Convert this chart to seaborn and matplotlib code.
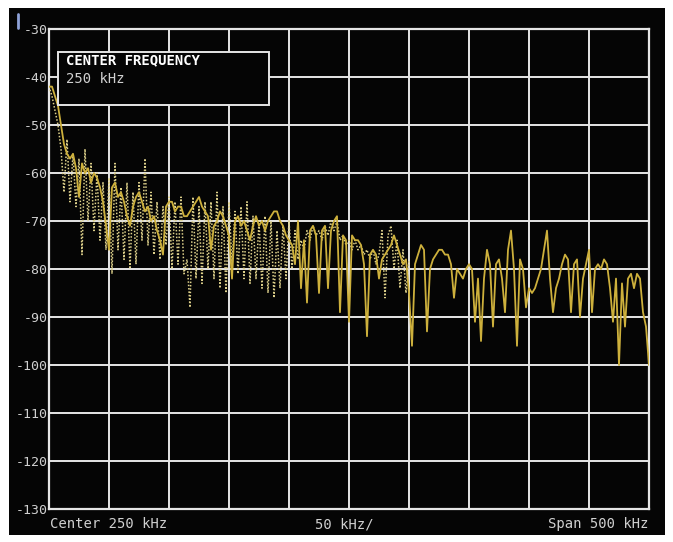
"""
Spectrum analyser screen: 250 kHz centre, 500 kHz span, -30 .. -130 dBm.
Two overlaid traces (solid + dotted) read off the reference screenshot.
"""

import numpy as np
import pandas as pd
import matplotlib
matplotlib.use("Agg")
import matplotlib.pyplot as plt
from matplotlib.patches import Rectangle
from matplotlib.lines import Line2D
import seaborn as sns

# ── data ───────────────────────────────────────────────────────────────────────
SPAN_KHZ = 500
BIN_KHZ = 2.5          # one trace bin = 2.5 kHz (approx. 3 px on screen)

# solid trace, 0 .. 500 kHz
solid_dbm = [
    -42, -42, -44, -46, -50, -54, -56, -57, -56, -59,
    -65, -58, -60, -59, -62, -60, -61, -63, -66, -71,
    -76, -63, -62, -65, -64, -66, -69, -71, -67, -65,
    -64, -66, -68, -67, -70, -69, -72, -74, -77, -67,
    -66, -66, -68, -67, -67, -69, -69, -68, -67, -66,
    -65, -67, -68, -69, -76, -71, -70, -68, -69, -71,
    -73, -82, -70, -69, -71, -70, -72, -74, -71, -69,
    -71, -70, -72, -70, -69, -68, -68, -70, -71, -73,
    -74, -75, -79, -70, -84, -74, -87, -72, -71, -73,
    -85, -72, -71, -84, -72, -70, -69, -89, -73, -74,
    -91, -73, -74, -74, -75, -79, -94, -77, -76, -77,
    -82, -78, -77, -76, -75, -73, -75, -77, -79, -78,
    -85, -96, -79, -77, -75, -76, -93, -80, -78, -77,
    -76, -76, -77, -77, -79, -86, -80, -81, -82, -80,
    -79, -80, -91, -82, -95, -82, -76, -79, -92, -79,
    -78, -82, -89, -76, -72, -80, -96, -78, -80, -88,
    -84, -85, -84, -82, -80, -76, -72, -82, -89, -84,
    -82, -79, -77, -78, -89, -79, -78, -90, -82, -79,
    -76, -89, -80, -79, -80, -78, -79, -84, -91, -82,
    -100, -83, -92, -82, -81, -84, -81, -82, -89, -92,
    -100,
]

# dotted trace, 0 .. ~300 kHz
dotted_dbm = [
    -42, -44, -47, -50, -55, -64, -53, -66, -56, -67,
    -57, -77, -55, -70, -58, -72, -60, -74, -62, -76,
    -61, -81, -58, -76, -63, -78, -62, -80, -64, -79,
    -62, -74, -57, -75, -64, -77, -66, -78, -67, -75,
    -65, -80, -66, -79, -65, -81, -78, -88, -65, -82,
    -67, -83, -66, -80, -66, -82, -64, -84, -67, -85,
    -66, -79, -68, -81, -67, -82, -66, -83, -69, -82,
    -70, -84, -69, -85, -70, -86, -72, -84, -71, -82,
    -70, -80, -72, -78, -74, -76, -72, -74, -71, -73,
    -72, -74, -71, -73, -70, -72, -70, -74, -73, -75,
    -74, -76, -74, -76, -75, -77, -76, -78, -76, -79,
    -77, -72, -86, -73, -71, -80, -74, -84, -76, -85,
    -78,
]

y_ticks = list(range(-30, -131, -10))
x_ticks = list(range(0, SPAN_KHZ + 1, 50))
box_title = "CENTER FREQUENCY"
box_value = "250 kHz"
foot_left, foot_mid, foot_right = "Center 250 kHz", "50 kHz/", "Span 500 kHz"

solid = pd.DataFrame({"freq": np.arange(len(solid_dbm)) * BIN_KHZ, "level": solid_dbm})
dotted = pd.DataFrame({"freq": np.arange(len(dotted_dbm)) * BIN_KHZ, "level": dotted_dbm})

# ── style ──────────────────────────────────────────────────────────────────────
sns.set_theme(style="dark")
plt.rcParams["font.family"] = ["DejaVu Sans Mono"]

GRID = "#e6e6e6"
TXT = "#d0d0d0"
W, H = 673, 542

fig = plt.figure(figsize=(W / 100, H / 100), dpi=100, facecolor="white")
fig.patches.append(Rectangle((9 / W, 7 / H), 656 / W, 527 / H,
                             transform=fig.transFigure, facecolor="#050505",
                             edgecolor="none", zorder=-10))

ax = fig.add_axes([49 / W, 33 / H, 600 / W, 480 / H])
ax.set_facecolor("#050505")

sns.lineplot(data=dotted, x="freq", y="level", ax=ax, color="#ddd08a",
             linestyle=(0, (1, 1.2)), lw=1.1, estimator=None, sort=False, zorder=3)
sns.lineplot(data=solid, x="freq", y="level", ax=ax, color="#cdb03c",
             lw=1.3, estimator=None, sort=False, zorder=4)

ax.set_xlim(0, SPAN_KHZ)
ax.set_ylim(-130, -30)
ax.set_xticks(x_ticks)
ax.set_yticks(y_ticks)
ax.set_xticklabels([])
ax.set_yticklabels([str(v) for v in y_ticks], color=TXT, fontsize=9.5)
ax.tick_params(axis="both", length=0, pad=1)
ax.grid(True, color=GRID, lw=1.4, zorder=1)
ax.set_axisbelow(True)
for s in ax.spines.values():
    s.set_color(GRID)
    s.set_linewidth(1.6)
ax.set_xlabel("")
ax.set_ylabel("")

# centre-frequency annotation box (covers the grid)
ax.add_patch(Rectangle((7.5, -45.9), 176, 11.2, facecolor="#050505",
                       edgecolor=GRID, lw=1.4, zorder=5))
ax.text(14, -36.6, box_title, color="white", fontsize=10, fontweight="bold",
        va="center", zorder=6)
ax.text(14, -40.5, box_value, color=TXT, fontsize=10, va="center", zorder=6)

# footer annotations
fig.text(50 / W, 18 / H, foot_left, color=TXT, fontsize=10, va="center")
fig.text(344 / W, 18 / H, foot_mid, color=TXT, fontsize=10, va="center", ha="center")
fig.text(648 / W, 18 / H, foot_right, color=TXT, fontsize=10, va="center", ha="right")

# small marker bar at top-left
fig.lines.append(Line2D([18 / W, 18 / W], [(H - 28) / H, (H - 14) / H],
                        transform=fig.transFigure, color="#8ea2d8", lw=2))

fig.savefig("out.png", dpi=100, facecolor=fig.get_facecolor())
plt.close(fig)
